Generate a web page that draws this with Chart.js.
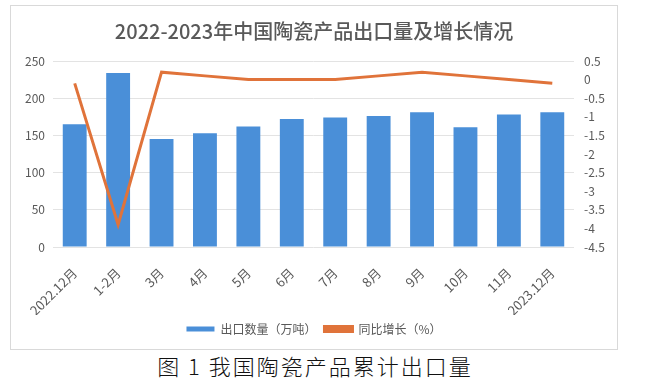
<!DOCTYPE html>
<html>
<head>
<meta charset="utf-8">
<script src="https://cdn.jsdelivr.net/npm/chart.js@4"></script>
<style>
  body { margin: 0; background: #fff; width: 649px; height: 379px; overflow: hidden; }
  #box { position: absolute; left: 10px; top: 5px; width: 606px; height: 343px; border: 1px solid #d9d9d9; }
  #caption { position: absolute; left: 0; width: 630px; top: 349px; text-align: center;
    font-family: "Noto Sans CJK SC"; font-size: 22px; font-weight: 300; letter-spacing: 2px; color: #111; }
</style>
</head>
<body>
<div id="box"><canvas id="grafico" width="606" height="343"></canvas></div>
<div id="caption">图 1 我国陶瓷产品累计出口量</div>
<script>
var months = ["2022.12月", "1-2月", "3月", "4月", "5月", "6月", "7月", "8月", "9月", "10月", "11月", "2023.12月"];
var exportVolume = [165, 234, 145, 153, 162, 172, 174, 176, 181, 161, 178, 181];
var yoyGrowth = [-0.1, -3.9, 0.2, 0.1, 0.0, 0.0, 0.0, 0.1, 0.2, 0.1, 0.0, -0.1];
var leftTicks = [0, 250, 50];
var rightTicks = [-4.5, 0.5, 0.5];

var font = "'Noto Sans CJK SC', sans-serif";
var grey = "#595959";

var data = {
    labels: months,
    datasets: [{
        type: "bar",
        label: "出口数量（万吨）",
        data: exportVolume,
        backgroundColor: "#4a8fd8",
        yAxisID: "y",
        order: 1,
        barPercentage: 0.55,
        categoryPercentage: 1
    }, {
        type: "line",
        label: "同比增长（%）",
        data: yoyGrowth,
        borderColor: "#e0733a",
        backgroundColor: "#e0733a",
        borderWidth: 3,
        pointRadius: 0,
        tension: 0,
        yAxisID: "y1",
        order: 0
    }]
};

var options = {
    responsive: false,
    animation: false,
    layout: { padding: { left: 0, right: 0, top: 8, bottom: 4 } },
    plugins: {
        title: {
            display: true,
            text: "2022-2023年中国陶瓷产品出口量及增长情况",
            color: grey,
            font: { family: font, size: 20, weight: "500" },
            padding: { top: 5, bottom: 18 }
        },
        legend: {
            position: "bottom",
            labels: {
                color: grey,
                font: { family: font, size: 12 },
                boxWidth: 28,
                boxHeight: 5,
                padding: 8,
                sort: function (a, b) { return a.datasetIndex - b.datasetIndex; }
            }
        },
        tooltip: { enabled: false }
    },
    scales: {
        x: {
            grid: { display: false },
            border: { display: false },
            ticks: { color: grey, font: { family: font, size: 13 }, minRotation: 45, maxRotation: 45, autoSkip: false, padding: 10 },
            afterFit: function (s) { s.height = 68; }
        },
        y: {
            position: "left",
            min: leftTicks[0], max: leftTicks[1],
            ticks: { stepSize: leftTicks[2], color: grey, font: { family: font, size: 12 }, padding: 8 },
            grid: { color: "#e3e3e3", drawTicks: false },
            border: { display: false },
            afterFit: function (s) { s.width = 42; }
        },
        y1: {
            position: "right",
            min: rightTicks[0], max: rightTicks[1],
            ticks: {
                stepSize: rightTicks[2], color: grey, font: { family: font, size: 12 }, padding: 10, autoSkip: false,
                callback: function (v) { return String(Math.round(v * 10) / 10); }
            },
            grid: { display: false, drawTicks: false },
            border: { display: false },
            afterFit: function (s) { s.width = 43; }
        }
    }
};

var ctx = document.querySelector('#grafico').getContext('2d');
var comboChart = new Chart(ctx, { type: "bar", data: data, options: options });
</script>
</body>
</html>
